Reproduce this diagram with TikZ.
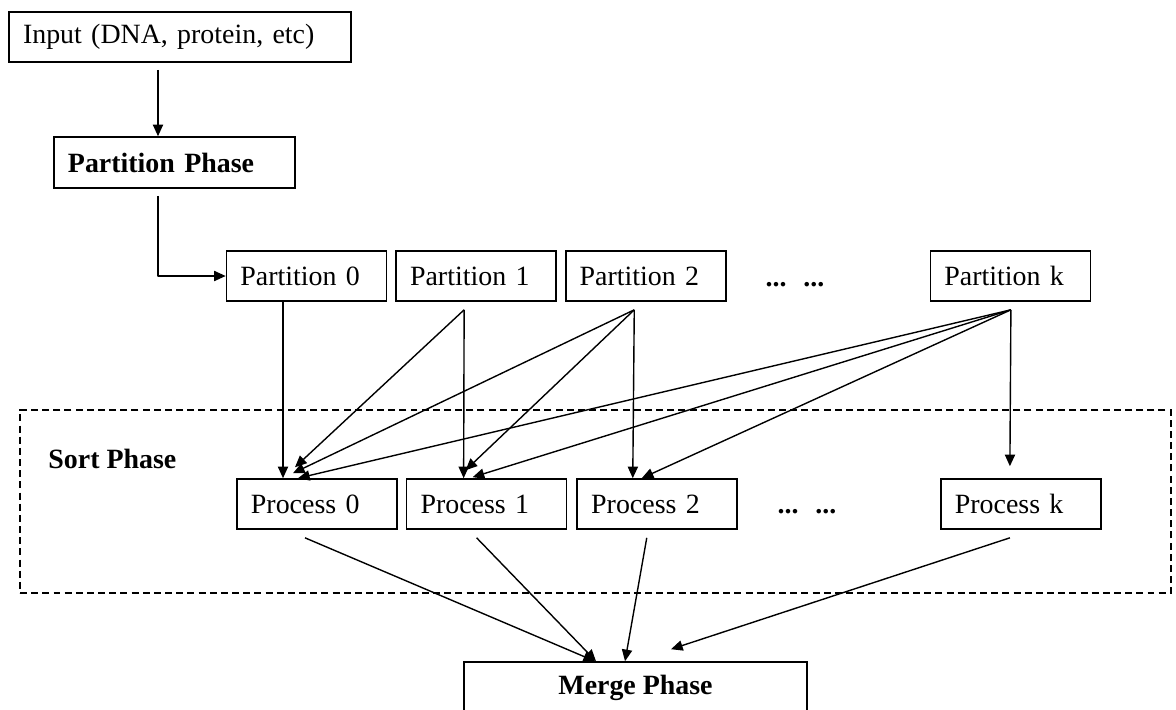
\documentclass[tikz,border=0pt]{standalone}
\usepackage{fontspec}
\setmainfont{Liberation Serif}
\usetikzlibrary{arrows.meta, calc, positioning}
\tikzset{%
  stage_box/.style={%
    rectangle,%
    draw=black,%
    line width=0.7pt,%
    minimum height=21.5pt,%
    inner xsep=6pt,%
    align=left,%
    font={\fontsize{12}{14}\selectfont},%
  },
  part_box/.style={%
    stage_box,%
    text width=56.8pt,%
  },
  input_box/.style={%
    stage_box,%
    text width=135pt,%
  },
  phase_box/.style={%
    stage_box,%
    minimum height=21.9pt,%
    font={\fontsize{12}{14}\selectfont\bfseries},%
  },
  sort_area/.style={%
    rectangle,%
    draw=black,%
    line width=0.55pt,%
    dash pattern=on 3pt off 1.8pt,%
    minimum width=494.9pt,%
    minimum height=78.7pt,%
  },
  phase_label/.style={%
    inner sep=0pt,%
    font={\fontsize{12}{14}\selectfont\bfseries},%
  },
  more_dots/.style={%
    font={\fontsize{12}{14}\selectfont\bfseries},%
  },
  flow_path/.style={%
    color=black,%
    line width=0.6pt,%
    line join=round,%
  },
  arrow/.style={-{Triangle[length=5pt, width=4.4pt]}},
}

\begin{document}
\begin{tikzpicture}[x=0.43pt, y=0.43pt]
    \useasboundingbox (0, 0) rectangle (1176, 709);
    \clip (0, 0) rectangle (1176, 709);

    \node[sort_area] (SortArea) at (595.5, 207.5) {};
    \node[phase_label, anchor=west] (SortLabel) at (48, 250) {Sort Phase};

    \node[input_box] (Input) at (180, 672) {Input (DNA, protein, etc)};
    \node[phase_box, text width=91.6pt] (PartPhase) at (174.5, 546.5) {Partition Phase};

    \node[part_box] (Part0) at (306.5, 433) {Partition 0};
    \node[part_box, right = 8 of Part0] (Part1) {Partition 1};
    \node[part_box, right = 8 of Part1] (Part2) {Partition 2};
    \node[part_box, right = 203 of Part2] (PartK) {Partition k};
    \node[more_dots, anchor=base] (PartDots) at (795, 423) {...\hspace{0.6em}...};

    \node[part_box] (Proc0) at (317, 205) {Process 0};
    \node[part_box, right = 8 of Proc0] (Proc1) {Process 1};
    \node[part_box, right = 9 of Proc1] (Proc2) {Process 2};
    \node[part_box, right = 202 of Proc2] (ProcK) {Process k};
    \node[more_dots, anchor=base] (ProcDots) at (807, 196) {...\hspace{0.6em}...};

    \node[phase_box, minimum width=147.5pt, align=center] (Merge) at (635.5, 21.5) {Merge Phase};

    % input and partitioning
    \draw[flow_path, arrow]
      ($(Input.south)+(-22, -7)$)
      --
      ($(PartPhase.north)+(-16.5, 0)$);
    \draw[flow_path, arrow]
      ($(PartPhase.south)+(-16.5, -7)$)
      |-
      (Part0.west);

    % partitions to processes
    \coordinate (Out0) at ($(Part0.south)+(-23.5, 0)$);
    \coordinate (Out1) at ($(Part1.south)+(-12, -8)$);
    \coordinate (Out2) at ($(Part2.south)+(-11.5, -8)$);
    \coordinate (OutK) at ($(PartK.south)+(0.5, -8)$);

    \draw[flow_path, arrow]
      (Out0)
      --
      ($(Proc0.north)+(-34, 0)$);
    \draw[flow_path, arrow]
      (Out1)
      --
      ($(Proc0.north)+(-22, 11)$);
    \draw[flow_path, arrow]
      (Out1)
      --
      ($(Proc1.north)+(-23, 0)$);
    \draw[flow_path, arrow]
      (Out2)
      --
      ($(Proc0.north)+(-24, 5)$);
    \draw[flow_path, arrow]
      (Out2)
      --
      ($(Proc1.north)+(-21, 8)$);
    \draw[flow_path, arrow]
      (Out2)
      --
      ($(Proc2.north)+(-24.5, 0)$);
    \draw[flow_path, arrow]
      (OutK)
      --
      ($(Proc0.north)+(-19, 0)$);
    \draw[flow_path, arrow]
      (OutK)
      --
      ($(Proc1.north)+(-14, 1)$);
    \draw[flow_path, arrow]
      (OutK)
      --
      ($(Proc2.north)+(-15.5, 0)$);
    \draw[flow_path, arrow]
      (OutK)
      --
      ($(ProcK.north)+(-11, 12)$);

    % processes to merge
    \draw[flow_path, arrow]
      ($(Proc0.south)+(-12, -8)$)
      --
      ($(Merge.north)+(-40.5, 0)$);
    \draw[flow_path, arrow]
      ($(Proc1.south)+(-10, -8)$)
      --
      ($(Merge.north)+(-39.5, 0)$);
    \draw[flow_path, arrow]
      ($(Proc2.south)+(-10.5, -8)$)
      --
      ($(Merge.north)+(-10.5, 0)$);
    \draw[flow_path, arrow]
      ($(ProcK.south)+(-11, -8)$)
      --
      ($(Merge.north)+(35.5, 12)$);

  \end{tikzpicture}
\end{document}
